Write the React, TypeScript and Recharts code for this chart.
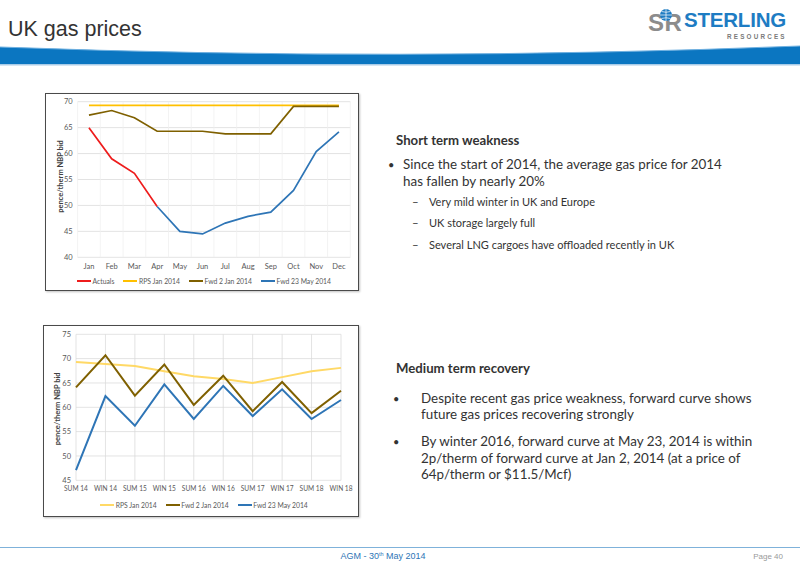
import React from 'react';
import { LineChart, Line, XAxis, YAxis, CartesianGrid, Legend, Label } from 'recharts';

// ---- Chart 1: 2014 monthly prices (pence/therm NBP bid) ----
const months = ['Jan', 'Feb', 'Mar', 'Apr', 'May', 'Jun', 'Jul', 'Aug', 'Sep', 'Oct', 'Nov', 'Dec'];
const monthIndex = [0, 1, 2, 3, 4, 5, 6, 7, 8, 9, 10, 11];
const actuals = [65.0, 59.0, 56.2, 49.8, null, null, null, null, null, null, null, null];
const rpsJan2014Monthly = [69.3, 69.3, 69.3, 69.3, 69.3, 69.3, 69.3, 69.3, 69.3, 69.3, 69.3, 69.3];
const fwd2Jan2014Monthly = [67.4, 68.3, 66.9, 64.3, 64.3, 64.3, 63.8, 63.8, 63.8, 69.1, 69.1, 69.1];
const fwd23May2014Monthly = [null, null, null, 49.8, 45.0, 44.5, 46.6, 47.9, 48.7, 52.9, 60.4, 64.2];
const monthlyTicks = [40, 45, 50, 55, 60, 65, 70];
const monthlyLegendOrder = ['Actuals', 'RPS Jan 2014', 'Fwd 2 Jan 2014', 'Fwd 23 May 2014'];

// ---- Chart 2: seasonal forward prices ----
const seasons = ['SUM 14', 'WIN 14', 'SUM 15', 'WIN 15', 'SUM 16', 'WIN 16', 'SUM 17', 'WIN 17', 'SUM 18', 'WIN 18'];
const rpsJan2014Seasonal = [69.3, 68.9, 68.5, 67.4, 66.4, 65.8, 65.0, 66.2, 67.4, 68.1];
const fwd2Jan2014Seasonal = [64.1, 70.7, 62.4, 68.8, 60.5, 66.5, 59.2, 65.2, 58.8, 63.4];
const fwd23May2014Seasonal = [47.1, 62.3, 56.2, 64.7, 57.6, 64.4, 58.2, 63.7, 57.6, 61.5];
const seasonalTicks = [45, 50, 55, 60, 65, 70, 75];
const seasonalLegendOrder = ['RPS Jan 2014', 'Fwd 2 Jan 2014', 'Fwd 23 May 2014'];

const monthlyRows = months.map((m, i) => ({
  i: monthIndex[i],
  month: m,
  actuals: actuals[i],
  rps: rpsJan2014Monthly[i],
  fwdJan: fwd2Jan2014Monthly[i],
  fwdMay: fwd23May2014Monthly[i],
}));

const seasonalRows = seasons.map((s, i) => ({
  season: s,
  rps: rpsJan2014Seasonal[i],
  fwdJan: fwd2Jan2014Seasonal[i],
  fwdMay: fwd23May2014Seasonal[i],
}));

const RED = '#EE1C1C';
const GOLD = '#FFC000';
const LIGHTGOLD = '#FFD966';
const OLIVE = '#7F6000';
const BLUE = '#2E75B6';
const AXIS_TEXT = '#595959';
const FONT = 'Lato, "Open Sans", sans-serif';

const makeLegend = (order: string[]) => (props: any) => {
  const items = [...(props.payload || [])].sort(
    (a: any, b: any) => order.indexOf(a.value) - order.indexOf(b.value)
  );
  return (
    <div
      style={{
        display: 'flex',
        justifyContent: 'center',
        alignItems: 'center',
        height: 14,
        fontFamily: FONT,
        fontSize: 6.8,
        color: AXIS_TEXT,
        gap: 9,
        whiteSpace: 'nowrap',
      }}
    >
      {items.map((e: any) => (
        <div key={e.value} style={{ display: 'flex', alignItems: 'center' }}>
          <span style={{ display: 'inline-block', width: 14, height: 2, background: e.color, marginRight: 1.5 }} />
          <span>{e.value}</span>
        </div>
      ))}
    </div>
  );
};

const axisTitle = (dx: number, dy: number) => (props: any) => {
  const vb = props.viewBox || {};
  const x = (vb.x || 0) + dx;
  const y = (vb.y || 0) + (vb.height || 0) / 2 + dy;
  return (
    <text
      x={x}
      y={y}
      transform={`rotate(-90, ${x}, ${y})`}
      textAnchor="middle"
      dominantBaseline="central"
      fontFamily={FONT}
      fontSize={7.5}
      fontWeight={700}
      fill="#404040"
    >
      pence/therm NBP bid
    </text>
  );
};

const tickStyle = { fontSize: 7.5, fill: AXIS_TEXT, fontFamily: FONT };
const seasonTickStyle = { fontSize: 6.6, fill: AXIS_TEXT, fontFamily: FONT };

const MonthlyChart = () => (
  <LineChart width={314} height={198} data={monthlyRows} margin={{ top: 8.7, right: 8.7, bottom: 3, left: 0 }}>
    <CartesianGrid stroke="#D9D9D9" strokeWidth={0.75} vertical={false} />
    <CartesianGrid
      stroke="#EFEFEF"
      strokeWidth={0.75}
      horizontal={false}
      verticalCoordinatesGenerator={({ offset }: any) =>
        monthIndex.concat([12]).map((k) => offset.left + (k * offset.width) / months.length)
      }
    />
    <XAxis
      dataKey="i"
      type="number"
      domain={[-0.5, 11.5]}
      ticks={monthIndex}
      interval={0}
      tickFormatter={(v: number) => months[v]}
      axisLine={false}
      tickLine={false}
      tickSize={0}
      tickMargin={6}
      height={16.7}
      tick={tickStyle}
    />
    <YAxis
      domain={[40, 70]}
      ticks={monthlyTicks}
      interval={0}
      width={32.6}
      axisLine={false}
      tickLine={false}
      tickSize={0}
      tickMargin={5}
      tick={tickStyle}
    >
      <Label content={axisTitle(15.7, -3)} />
    </YAxis>
    <Legend verticalAlign="bottom" content={makeLegend(monthlyLegendOrder)} wrapperStyle={{ left: 0, width: 318 }} />
    <Line name="Actuals" dataKey="actuals" stroke={RED} strokeWidth={1.7} dot={false} isAnimationActive={false} />
    <Line name="RPS Jan 2014" dataKey="rps" stroke={GOLD} strokeWidth={1.7} dot={false} isAnimationActive={false} />
    <Line name="Fwd 2 Jan 2014" dataKey="fwdJan" stroke={OLIVE} strokeWidth={1.7} dot={false} isAnimationActive={false} />
    <Line name="Fwd 23 May 2014" dataKey="fwdMay" stroke={BLUE} strokeWidth={1.7} dot={false} isAnimationActive={false} />
  </LineChart>
);

const SeasonalChart = () => (
  <LineChart width={316} height={192} data={seasonalRows} margin={{ top: 9.3, right: 18, bottom: 5, left: 0 }}>
    <CartesianGrid stroke="#D9D9D9" strokeWidth={0.75} />
    <XAxis
      dataKey="season"
      interval={0}
      axisLine={false}
      tickLine={false}
      tickSize={0}
      tickMargin={6}
      height={17.7}
      tick={seasonTickStyle}
    />
    <YAxis
      domain={[45, 75]}
      ticks={seasonalTicks}
      interval={0}
      width={33}
      axisLine={false}
      tickLine={false}
      tickSize={0}
      tickMargin={5}
      tick={tickStyle}
    >
      <Label content={axisTitle(15, 1.5)} />
    </YAxis>
    <Legend verticalAlign="bottom" content={makeLegend(seasonalLegendOrder)} wrapperStyle={{ left: 0, width: 322 }} />
    <Line name="RPS Jan 2014" dataKey="rps" stroke={LIGHTGOLD} strokeWidth={2} dot={false} isAnimationActive={false} />
    <Line name="Fwd 2 Jan 2014" dataKey="fwdJan" stroke={OLIVE} strokeWidth={2} dot={false} isAnimationActive={false} />
    <Line name="Fwd 23 May 2014" dataKey="fwdMay" stroke={BLUE} strokeWidth={2} dot={false} isAnimationActive={false} />
  </LineChart>
);

const boxStyle = (left: number, top: number, width: number, height: number): React.CSSProperties => ({
  position: 'absolute',
  left,
  top,
  width,
  height,
});

const borderStyle = (left: number, top: number, width: number, height: number): React.CSSProperties => ({
  position: 'absolute',
  left,
  top,
  width,
  height,
  boxSizing: 'border-box',
  border: '1.5px solid #4A4A4A',
  boxShadow: '1px 1px 2px rgba(0,0,0,0.25)',
  pointerEvents: 'none',
});

const BODY_FONT = 'Lato, "Open Sans", sans-serif';
const TEXT = '#333333';
const ARIAL = '"Liberation Sans", Arial, sans-serif';

export default function App() {
  return (
    <div
      style={{
        position: 'absolute',
        left: 0,
        top: 0,
        width: 800,
        height: 566,
        overflow: 'hidden',
        background: '#ffffff',
      }}
    >
      <svg width={800} height={566} style={{ position: 'absolute', left: 0, top: 0 }}>
        <text x={8} y={36} fontFamily={ARIAL} fontSize={21.5} fill="#333333">
          UK gas prices
        </text>
        {/* logo */}
        <text x={648} y={31} fontFamily={ARIAL} fontSize={24} fontWeight={700} fill="#8C8C8C">S</text>
        <text x={664.5} y={31} fontFamily={ARIAL} fontSize={24} fontWeight={700} fill="#8C8C8C">R</text>
        <circle cx={666} cy={15} r={6} fill="#1E7CC3" />
        <path d="M660,15 H672 M666,9 V21 M661.5,11.5 Q666,13 670.5,11.5 M661.5,18.5 Q666,17 670.5,18.5" stroke="#ffffff" strokeWidth={0.7} fill="none" />
        <text x={684} y={27} fontFamily={ARIAL} fontSize={20.5} fontWeight={700} fill="#1E7CC3" letterSpacing={-0.2}>
          STERLING
        </text>
        <text x={727} y={38.5} fontFamily={ARIAL} fontSize={6.3} fontWeight={700} fill="#7A7A7A" letterSpacing={2.2}>
          RESOURCES
        </text>
        {/* blue band */}
        <path d="M0,47 Q400,62 800,46 L800,64 L0,64 Z" fill="#0B76C1" />
        <path d="M0,47 Q400,62 800,46" stroke="#6FB0E0" strokeWidth={1} fill="none" />
        <rect x={0} y={64} width={800} height={1.5} fill="#A9CCE8" />

        <g fontFamily={BODY_FONT} fill={TEXT}>
          <text x={396} y={144.5} fontSize={13.2} fontWeight={700}>Short term weakness</text>
          <text x={388} y={168.5} fontSize={11}>•</text>
          <text x={403} y={168.5} fontSize={13.4}>Since the start of 2014, the average gas price for 2014</text>
          <text x={403} y={185.5} fontSize={13.4}>has fallen by nearly 20%</text>
          <text x={412} y={206} fontSize={11.5}>–</text>
          <text x={429} y={206} fontSize={11}>Very mild winter in UK and Europe</text>
          <text x={412} y={226.5} fontSize={11.5}>–</text>
          <text x={429} y={226.5} fontSize={11}>UK storage largely full</text>
          <text x={412} y={248.5} fontSize={11.5}>–</text>
          <text x={429} y={248.5} fontSize={11}>Several LNG cargoes have offloaded recently in UK</text>

          <text x={396} y={372.5} fontSize={13.2} fontWeight={700}>Medium term recovery</text>
          <text x={393} y={402.5} fontSize={11}>•</text>
          <text x={421} y={402.5} fontSize={13.4}>Despite recent gas price weakness, forward curve shows</text>
          <text x={421} y={418.5} fontSize={13.4}>future gas prices recovering strongly</text>
          <text x={393} y={446} fontSize={11}>•</text>
          <text x={421} y={446} fontSize={13.4}>By winter 2016, forward curve at May 23, 2014 is within</text>
          <text x={421} y={462.5} fontSize={13.4}>2p/therm of forward curve at Jan 2, 2014 (at a price of</text>
          <text x={421} y={479} fontSize={13.4}>64p/therm or $11.5/Mcf)</text>
        </g>

        {/* footer */}
        <line x1={0} y1={547.5} x2={800} y2={547.5} stroke="#7FB2DA" strokeWidth={1} />
        <text x={383} y={559} textAnchor="middle" fontFamily={ARIAL} fontSize={9} fill="#2E75B6">
          AGM - 30<tspan fontSize={5.5} dy={-3}>th</tspan>
          <tspan dy={3}> May 2014</tspan>
        </text>
        <text x={783} y={559} textAnchor="end" fontFamily={ARIAL} fontSize={8} fill="#9A9A9A">
          Page 40
        </text>
      </svg>

      <div style={boxStyle(45, 93, 314, 198)}>
        <MonthlyChart />
      </div>
      <div style={borderStyle(45, 93, 314, 198)} />

      <div style={boxStyle(43, 325, 316, 192)}>
        <SeasonalChart />
      </div>
      <div style={borderStyle(43, 325, 316, 192)} />
    </div>
  );
}
